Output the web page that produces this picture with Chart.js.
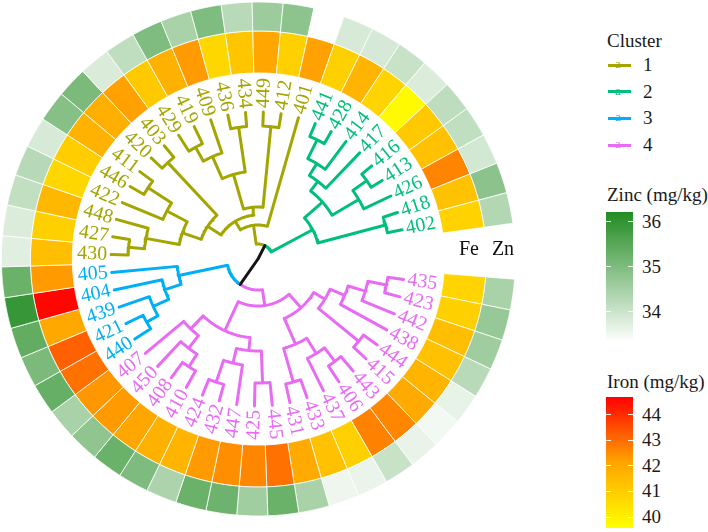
<!DOCTYPE html>
<html>
<head>
<meta charset="utf-8">
<script src="https://cdn.jsdelivr.net/npm/chart.js@4.4.0/dist/chart.umd.min.js"></script>
<style>
  body { margin: 0; background: #fff; }
  #wrap { position: relative; width: 708px; height: 532px; font-family: "Liberation Serif", "Times New Roman", serif; color: #1a1a1a; overflow: hidden; }
  .layer { position: absolute; left: 0; top: 1px; width: 516px; height: 516px; }
  .txt { position: absolute; font-size: 19px; line-height: 22px; white-space: nowrap; }
</style>
</head>
<body>
<div id="wrap">
  <canvas id="rings" class="layer" width="516" height="516"></canvas>
  <canvas id="tree" class="layer" width="516" height="516"></canvas>
  <div id="legend"></div>
</div>
<script>
// leaves, counter-clockwise from the right hand gap
const leafOrder = ['402','418','426','413','416','417','414','428','441',
  '401','412','449','434','436','409','419','429','403','420','411','446','422','448','427','430',
  '405','404','439','421','440',
  '407','450','408','410','424','432','447','425','445','431','433','437','406','443','415','444','438','442','423','435'];
const leafCluster = [2,2,2,2,2,2,2,2,2,
  1,1,1,1,1,1,1,1,1,1,1,1,1,1,1,1,
  3,3,3,3,3,
  4,4,4,4,4,4,4,4,4,4,4,4,4,4,4,4,4,4,4,4];

// iron (inner ring) and zinc (outer ring), mg/kg, same order as leafOrder
const ironValues = [40.85, 41.3, 42.65, 41.35, 41.1, 39.7, 40.8, 41.7, 40.9,
  42.2, 40.9, 42.1, 41.2, 40.7, 42.3, 41.8, 41.1, 42.2, 41.85, 41.75, 41.0, 40.7, 41.6, 40.9, 41.4,
  42.3, 44.6, 42.05, 43.2, 42.95,
  42.35, 42.3, 42.1, 41.8, 41.7, 42.3, 42.5, 42.6, 42.95, 42.0, 41.35, 40.9, 42.7, 42.6, 42.0, 41.7, 41.35, 41.4, 40.9, 40.8];
const zincValues = [34.32, 34.83, 33.9, 34.15, 34.18, 33.8, 34.06, 33.87, 33.85,
  33.33, 34.82, 34.63, 34.25, 35.0, 34.45, 35.0, 34.17, 33.82, 35.04, 34.91, 33.85, 34.27, 34.13, 33.8, 33.74,
  35.28, 35.95, 35.37, 35.04, 35.33,
  34.45, 34.78, 35.28, 35.02, 34.42, 35.28, 35.24, 34.56, 35.28, 34.46, 33.55, 33.6, 34.05, 33.62, 33.5, 33.64, 34.25, 34.58, 34.69, 34.46];

// merge table: [child, child, node radius]; numbers point to earlier rows
const merges = [
  ['441','428',133], [0,'414',112], [1,'417',98], ['416','413',134], [3,'426',117],
  [2,4,86], ['418','402',132], [5,6,62],
  ['412','449',133], ['434','436',133], ['419','429',128], ['409',10,112], [9,11,88],
  [8,12,52], ['403','420',132], ['411','446',131], [15,'422',103], ['427','430',130],
  ['448',17,114], [16,18,80], [14,19,60], [13,20,44], ['401',21,34], [22,7,15],
  ['421','440',128], ['439',24,115], ['404',25,98], ['405',26,81],
  ['408','410',128], ['450',28,113], ['407',29,97], ['424','432',130], [31,'447',107],
  ['425','445',124], [32,33,92], [30,34,79], ['435','423',131], ['442',36,112],
  ['438',37,94], ['444','415',130], [39,38,78], ['406','443',128], ['437',41,111],
  ['431','433',128], [43,42,93], [44,40,65], [35,45,47], [27,46,31], [23,47,0]
];

const clusterNames = ['1','2','3','4'];
const clusterColors = ['#A3A500','#00BF7D','#00B0F6','#E76BF3'];
const zincTicks = [34, 35, 36];
const ironTicks = [40, 41, 42, 43, 44];
const zincRange = [33.33, 36.22];
const ironRange = [39.57, 44.7];

// layout
const gapTop = 8.0;      // lower edge of the first leaf, degrees
const step = 6.95;       // degrees per leaf
const tipR = 147, labelR = 151;

function leafAngle(y) { return gapTop + (y + 0.5) * step; }

function mix(a, b, t) { return a.map((v, k) => Math.round(v + (b[k] - v) * t)); }
function clamp(t) { return Math.max(0, Math.min(1, t)); }
function rgb(c) { return 'rgb(' + c.join(',') + ')'; }
function zincColor(v) {
  const t = clamp((v - zincRange[0]) / (zincRange[1] - zincRange[0]));
  return rgb(mix([255,255,255], [34,139,34], t));
}
function ironColor(v) {
  const t = clamp((v - ironRange[0]) / (ironRange[1] - ironRange[0]));
  if (t < 0.5) return rgb(mix([255,255,0], [255,165,0], t / 0.5));
  return rgb(mix([255,165,0], [255,0,0], (t - 0.5) / 0.5));
}

// heatmap rings, drawn clockwise so the order is reversed
const n = leafOrder.length;
const ringIdx = leafOrder.map((_, i) => n - 1 - i);

new Chart(document.getElementById('rings'), {
  type: 'doughnut',
  data: {
    labels: ringIdx.map(i => leafOrder[i]),
    datasets: [
      { label: 'Zn', data: ringIdx.map(() => 1), backgroundColor: ringIdx.map(i => zincColor(zincValues[i])), weight: 29 },
      { label: 'Fe', data: ringIdx.map(() => 1), backgroundColor: ringIdx.map(i => ironColor(ironValues[i])), weight: 42 }
    ]
  },
  options: {
    responsive: false,
    animation: false,
    radius: 257,
    cutout: '72.4%',
    rotation: 450 - (gapTop + n * step),
    circumference: n * step,
    borderColor: 'rgba(255,255,255,0.8)',
    borderWidth: 1,
    layout: { padding: 0 },
    plugins: { legend: { display: false }, tooltip: { enabled: false } }
  }
});

// build the tree
const nodes = {};
leafOrder.forEach((name, i) => { nodes[name] = { y: i, r: tipR, cl: leafCluster[i] }; });
function ref(x) { return typeof x === 'number' ? nodes['m' + x] : nodes[x]; }
merges.forEach((m, k) => {
  const a = ref(m[0]), b = ref(m[1]);
  const node = { y: (a.y + b.y) / 2, r: m[2], cl: a.cl === b.cl ? a.cl : 0 };
  a.parent = node; b.parent = node;
  nodes['m' + k] = node;
});

const treeColors = ['#151515'].concat(clusterColors);
const datasets = treeColors.map(c => ({
  data: [], showLine: true, borderColor: c, borderWidth: 3,
  pointRadius: 0, borderJoinStyle: 'round', borderCapStyle: 'round', spanGaps: false
}));

function pt(r, deg) {
  const a = deg * Math.PI / 180;
  return { x: r * Math.cos(a), y: r * Math.sin(a) };
}

Object.values(nodes).forEach(node => {
  if (!node.parent) return;
  const p = node.parent;
  const a0 = leafAngle(p.y), a1 = leafAngle(node.y);
  const pts = datasets[node.cl].data;
  const steps = Math.max(1, Math.ceil(Math.abs(a1 - a0) / 1.5));
  for (let s = 0; s <= steps; s++) pts.push(pt(p.r, a0 + (a1 - a0) * s / steps));
  pts.push(pt(node.r, a1));
  pts.push({ x: NaN, y: NaN });
});

const tipLabels = {
  id: 'tipLabels',
  afterDatasetsDraw(chart) {
    const { ctx, scales: { x, y } } = chart;
    ctx.save();
    ctx.font = '20px "Liberation Serif"';
    ctx.textBaseline = 'middle';
    leafOrder.forEach((name, i) => {
      const a = leafAngle(i);
      const p = pt(labelR, a);
      const flip = a > 90 && a < 270;
      ctx.save();
      ctx.translate(x.getPixelForValue(p.x), y.getPixelForValue(p.y));
      ctx.rotate(-(flip ? a - 180 : a) * Math.PI / 180);
      ctx.textAlign = flip ? 'right' : 'left';
      ctx.fillStyle = clusterColors[leafCluster[i] - 1];
      ctx.fillText(name, 0, 0);
      ctx.restore();
    });
    // ring headers in the gap
    ctx.fillStyle = '#111';
    ctx.font = '20px "Liberation Serif"';
    ctx.textAlign = 'center';
    ctx.fillText('Fe', x.getPixelForValue(211), y.getPixelForValue(9));
    ctx.fillText('Zn', x.getPixelForValue(245), y.getPixelForValue(9));
    ctx.restore();
  }
};

new Chart(document.getElementById('tree'), {
  type: 'scatter',
  data: { datasets: datasets },
  options: {
    responsive: false,
    animation: false,
    layout: { padding: 0 },
    scales: {
      x: { type: 'linear', min: -258, max: 258, display: false },
      y: { type: 'linear', min: -258, max: 258, display: false }
    },
    plugins: { legend: { display: false }, tooltip: { enabled: false } }
  },
  plugins: [tipLabels]
});

// legends
const legend = document.getElementById('legend');
function addText(text, left, cy, opts) {
  const d = document.createElement('div');
  d.className = 'txt';
  d.textContent = text;
  d.style.left = left + 'px';
  d.style.top = (cy - 11) + 'px';
  if (opts && opts.color) d.style.color = opts.color;
  if (opts && opts.size) d.style.fontSize = opts.size + 'px';
  legend.appendChild(d);
  return d;
}
function addBox(left, top, w, h, bg) {
  const d = document.createElement('div');
  d.style.cssText = 'position:absolute;left:' + left + 'px;top:' + top + 'px;width:' + w + 'px;height:' + h + 'px;background:' + bg;
  legend.appendChild(d);
  return d;
}

addText('Cluster', 607, 41);
clusterNames.forEach((name, k) => {
  const cy = 65 + k * 26.7;
  addBox(608, cy - 1.5, 23, 3, clusterColors[k]);
  addText('a', 615, cy - 1, { color: clusterColors[k], size: 13 });
  addText(name, 643, cy);
});

function colourBar(title, titleY, top, height, range, ticks, gradient) {
  addText(title, 607, titleY);
  addBox(606, top, 27, height, gradient);
  ticks.forEach(v => {
    const ty = top + (range[1] - v) / (range[1] - range[0]) * height;
    addBox(606, ty - 0.5, 5, 1, 'rgba(255,255,255,0.9)');
    addBox(628, ty - 0.5, 5, 1, 'rgba(255,255,255,0.9)');
    addText(String(v), 642, ty);
  });
}
colourBar('Zinc (mg/kg)', 195, 212, 130, zincRange, zincTicks,
  'linear-gradient(to top, #ffffff, rgb(34,139,34))');
colourBar('Iron (mg/kg)', 382, 397, 131, ironRange, ironTicks,
  'linear-gradient(to top, #ffff00, #ffa500 50%, #ff0000)');
</script>
</body>
</html>
